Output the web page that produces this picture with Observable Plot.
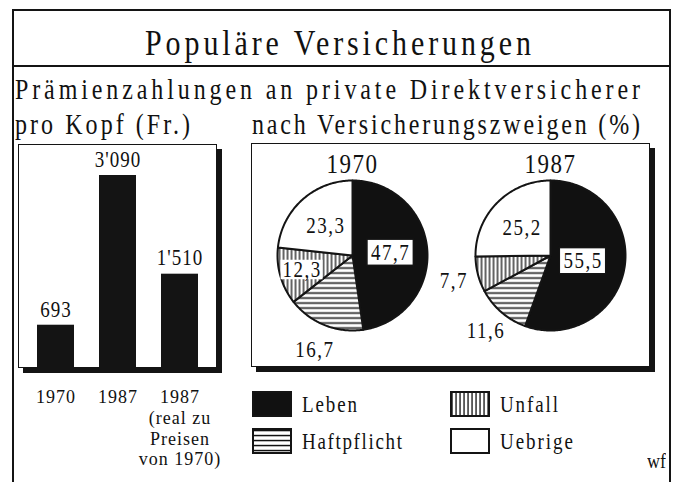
<!DOCTYPE html>
<html><head><meta charset="utf-8">
<script src="https://cdn.jsdelivr.net/npm/d3@7"></script>
<script src="https://cdn.jsdelivr.net/npm/@observablehq/plot@0.6"></script>
<style>
html,body{margin:0;padding:0;background:#fff;}
#root{position:relative;width:673px;height:482px;overflow:hidden;background:#fff;font-family:"Liberation Serif",serif;color:#111;}
</style></head><body>
<svg width="0" height="0" style="position:absolute">
<defs>
<pattern id="hstripe" patternUnits="userSpaceOnUse" width="8" height="5"><rect width="8" height="5" fill="white"/><rect y="1.8" width="8" height="1.5" fill="#111"/></pattern>
<pattern id="vstripe" patternUnits="userSpaceOnUse" width="4" height="8"><rect width="4" height="8" fill="white"/><rect x="1.4" width="1.3" height="8" fill="#111"/></pattern>
</defs></svg>
<div id="root"></div>
<script>
// ---------- data ----------
const barCategories = ["1970", "1987", "1987 real"];
const barValues = [693, 3090, 1510];
const barTickLabels = ["1970", "1987", "1987\n(real zu\nPreisen\nvon 1970)"];

const pieYears = ["1970", "1987"];
const branches = ["Leben", "Haftpflicht", "Unfall", "Uebrige"];
const shares1970 = [47.7, 16.7, 12.3, 23.3];
const shares1987 = [55.5, 11.6, 7.7, 25.2];

// ---------- layout / style (not data) ----------
const branchFill = ["#111", "url(#hstripe)", "url(#vstripe)", "white"];
const labelRadius = {"1970": [0.51, 1.35, 0.70, 0.53], "1987": [0.44, 1.32, 1.33, 0.53]};
const STRETCH = 1.2;
const FONT = "'Liberation Serif', serif";

const loc = d3.formatLocale({decimal: ",", thousands: "'", grouping: [3], currency: ["", ""]});
const fmtInt = loc.format(",");
const fmtPct = loc.format(".1f");

const root = document.getElementById("root");
function box(l, t, w, h, css = "") {
  const d = document.createElement("div");
  d.style.cssText = `position:absolute;left:${l}px;top:${t}px;width:${w}px;height:${h}px;box-sizing:border-box;${css}`;
  root.appendChild(d);
  return d;
}
// text whose visible width is fitted to `width` via letter-spacing
function label(str, x, yc, size, width, anchor = "start", s = STRETCH) {
  const d = document.createElement("div");
  d.textContent = str;
  d.style.cssText = `position:absolute;left:${x}px;top:${yc - size / 2}px;height:${size}px;line-height:${size}px;font-size:${size}px;white-space:nowrap;`;
  root.appendChild(d);
  const natural = d.getBoundingClientRect().width;
  const ls = str.length > 1 ? (width - natural) / (str.length - 1) : 0;
  d.style.letterSpacing = ls + "px";
  const w = natural + ls * (str.length - 1);
  const left = anchor === "middle" ? x - w / 2 : anchor === "end" ? x - w : x;
  d.style.left = left + "px";
  d.style.transform = `scaleY(${s})`;
  d.style.transformOrigin = "50% 50%";
  return d;
}
function stretch(svg, s, skip = null) {
  svg.querySelectorAll("text").forEach(t => {
    if (skip && t.closest(skip)) return;
    const tr = t.getAttribute("transform");
    if (tr) t.setAttribute("transform", tr + ` scale(1,${s})`);
    else if (t.hasAttribute("x") || t.hasAttribute("y")) {
      const x = +t.getAttribute("x") || 0, y = +t.getAttribute("y") || 0;
      t.setAttribute("transform", `translate(${x},${y}) scale(1,${s})`);
      t.setAttribute("x", 0); t.setAttribute("y", 0);
    }
  });
}

// ---------- frame ----------
const ink = "background:#141414;";
box(12, 9, 658, 1.6, ink);
box(12, 9, 1.6, 473, ink);
box(669, 9, 1.6, 473, ink);
box(12, 65, 658, 1.6, ink);

label("Populäre Versicherungen", 338, 43, 30, 386, "middle");
label("Prämienzahlungen an private Direktversicherer", 15, 89, 24, 625);
label("pro Kopf (Fr.)", 15, 124, 24, 175);
label("nach Versicherungszweigen (%)", 252, 124, 24, 388);

// panel boxes
box(18, 144, 199, 224, "border:1.6px solid #141414;box-shadow:5px 5px 0 #141414;background:#fff;");
box(251, 143, 399, 224, "border:1.6px solid #141414;box-shadow:5px 5px 0 #141414;background:#fff;");

const plotStyle = ls => ({fontFamily: FONT, fontSize: "18px", letterSpacing: ls + "px", background: "transparent", color: "#111", overflow: "visible"});

// ---------- bar chart ----------
const bars = barCategories.map((c, i) => ({cat: c, value: barValues[i]}));
const barPlot = Plot.plot({
  width: 199, height: 328,
  marginTop: 30, marginBottom: 105, marginLeft: 0, marginRight: 0,
  x: {domain: barCategories, paddingInner: 0.4, paddingOuter: 0.3},
  y: {domain: [0, 3090], axis: null},
  style: plotStyle(1),
  marks: [
    Plot.barY(bars, {x: "cat", y: "value", fill: "#141414"}),
    Plot.text(bars, {x: "cat", y: "value", text: d => fmtInt(d.value), dy: -16, fontSize: 19}),
    Plot.axisX({tickSize: 0, tickPadding: 20, fontSize: 18, lineHeight: 1.15, label: null,
      tickFormat: d => barTickLabels[barCategories.indexOf(d)]})
  ]
});
stretch(barPlot, STRETCH, "[aria-label='x-axis tick label']");
barPlot.style.position = "absolute"; barPlot.style.left = "18px"; barPlot.style.top = "145px";
root.appendChild(barPlot);

// ---------- pies ----------
const slices = [], labels = [];
pieYears.forEach((yr, yi) => {
  const vals = yi === 0 ? shares1970 : shares1987;
  const total = d3.sum(vals);
  let cum = 0;
  vals.forEach((v, i) => {
    const a0 = cum / total * 2 * Math.PI;
    cum += v;
    const a1 = cum / total * 2 * Math.PI;
    const n = Math.max(2, Math.ceil((a1 - a0) / (Math.PI / 180)));
    slices.push({year: yr, branch: branches[i], px: 0, py: 0});
    for (let k = 0; k <= n; k++) {
      const a = a0 + (a1 - a0) * k / n;
      slices.push({year: yr, branch: branches[i], px: Math.sin(a), py: Math.cos(a)});
    }
    slices.push({year: yr, branch: branches[i], px: 0, py: 0});
    const am = (a0 + a1) / 2, r = labelRadius[yr][i];
    labels.push({year: yr, branch: branches[i], value: v, lx: r * Math.sin(am), ly: r * Math.cos(am), inside: r < 1});
  });
});

const piePlot = Plot.plot({
  width: 396, height: 220,
  marginTop: 35, marginBottom: 35, marginLeft: 0, marginRight: 0,
  fx: {domain: pieYears, padding: 0},
  x: {domain: [-1.32, 1.32], axis: null},
  y: {domain: [-1, 1], axis: null},
  color: {type: "ordinal", domain: branches, range: branchFill},
  style: plotStyle(1.5),
  marks: [
    Plot.line(slices, {fx: "year", x: "px", y: "py", z: "branch", fill: "branch", stroke: "#141414", strokeWidth: 2, strokeLinejoin: "round"}),
    Plot.rect(labels.filter(d => d.inside && d.branch === "Leben"), {fx: "year",
      x1: d => d.lx - 0.31, x2: d => d.lx + 0.31, y1: d => d.ly - 0.175, y2: d => d.ly + 0.175,
      fill: "white", stroke: "#141414", strokeWidth: 1.6}),
    Plot.rect(labels.filter(d => d.inside && d.branch === "Unfall"), {fx: "year",
      x1: d => d.lx - 0.28, x2: d => d.lx + 0.28, y1: d => d.ly - 0.13, y2: d => d.ly + 0.13,
      fill: "white"}),
    Plot.text(labels, {fx: "year", x: "lx", y: "ly", text: d => fmtPct(d.value), fontSize: 19}),
    Plot.axisFx({anchor: "top", tickSize: 0, tickPadding: 8, fontSize: 23, label: null})
  ]
});
stretch(piePlot, STRETCH);
piePlot.style.position = "absolute"; piePlot.style.left = "253px"; piePlot.style.top = "145px";
root.appendChild(piePlot);

// ---------- legend ----------
const legendPos = [[252, 391], [252, 428], [450, 391], [450, 428]];
const legendWidths = [55, 100, 58, 73];
branches.forEach((b, i) => {
  const [lx, ly] = legendPos[i];
  const d = box(lx, ly, 40, 26);
  d.innerHTML = `<svg width="40" height="26"><rect x="1" y="1" width="38" height="24" fill="${branchFill[i]}" stroke="#141414" stroke-width="2"/></svg>`;
  label(b, lx + 50, ly + 13, 19, legendWidths[i]);
});
label("wf", 666, 461, 18, 19, "end");
</script>
</body></html>
